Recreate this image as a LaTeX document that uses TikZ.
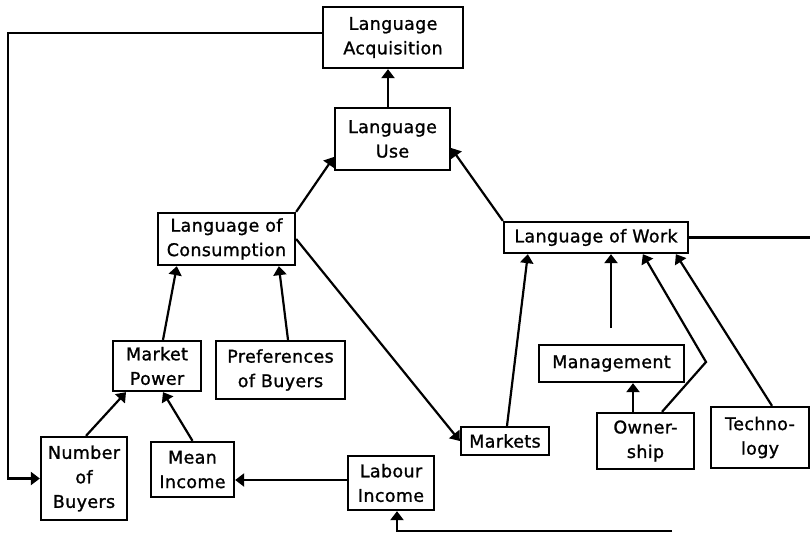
\documentclass[tikz,border=0pt]{standalone}
\usepackage{fontspec}
\setmainfont[LetterSpace=2,FakeBold=1.2]{DejaVu Sans}
\usetikzlibrary{calc,arrows.meta}
\begin{document}
\begin{tikzpicture}[x=1pt,y=-1pt,
  box/.style={draw,line width=2.3pt,inner sep=0pt,align=center,font=\fontsize{17.5}{24.5}\selectfont},
  con/.style={line width=2.2pt},
  arr/.style={con,-{Triangle[length=9pt,width=13pt]}}]
\useasboundingbox (0,0) rectangle (810,533);
\node[box,minimum width=140pt,minimum height=61pt] (acq) at (393,37.5) {Language\\Acquisition};
\node[box,minimum width=115pt,minimum height=62pt] (use) at (392.5,139) {Language\\Use};
\node[box,minimum width=137pt,minimum height=52pt] (cons) at (226.5,239) {Language of\\Consumption};
\node[box,minimum width=184pt,minimum height=31pt] (work) at (596,237.5) {Language of Work};
\node[box,minimum width=88pt,minimum height=50pt] (mp) at (157,366) {Market\\Power};
\node[box,minimum width=129pt,minimum height=58pt] (pref) at (280.5,370) {Preferences\\of Buyers};
\node[box,minimum width=145pt,minimum height=37pt] (mgmt) at (611.5,363.5) {Management};
\node[box,minimum width=88pt,minimum height=28pt] (markets) at (505,441) {Markets};
\node[box,minimum width=97pt,minimum height=56pt] (own) at (645.5,441) {Owner-\\ship};
\node[box,minimum width=98pt,minimum height=61pt] (tech) at (760,437.5) {Techno-\\logy};
\node[box,minimum width=86pt,minimum height=83pt] (nb) at (84,478.5) {Number\\of\\Buyers};
\node[box,minimum width=83pt,minimum height=55pt] (mean) at (192.5,469.5) {Mean\\Income};
\node[box,minimum width=86pt,minimum height=54pt] (lab) at (391,483) {Labour\\Income};
\coordinate (c1) at (8,33);
\coordinate (c2) at (810,237.5);
\coordinate (c3) at (672,531);
\coordinate (c4) at (611,328);
\coordinate (c5) at (706,362);
\coordinate (useA) at ($(use.north)+(-4.5,0)$);
\coordinate (labA) at ($(lab.west)+(0,-3)$);
\coordinate (ownA) at ($(own.north)+(-12.5,0)$);
% connectors
\draw[arr] (useA) -- (useA |- acq.south);
\draw[arr] ($(acq.west)+(0,-4.5)$) -- (c1) |- (nb.west);
\draw[arr] (cons.north east) -- ($(use.west)+(0,18)$);
\draw[arr] (work.north west) -- ($(use.east)+(0,9)$);
\draw[con] (work.east) -- (c2);
\draw[arr] (cons.east) -- (markets.west);
\draw[arr] ($(mp.north)+(6,0)$) -- ($(cons.south west)+(20,0)$);
\draw[arr] ($(pref.north)+(7.5,0)$) -- ($(cons.south west)+(122,0)$);
\draw[arr] ($(nb.north)+(2,0)$) -- ($(mp.south)+(-31,0)$);
\draw[arr] (mean.north) -- ($(mp.south)+(6,0)$);
\draw[arr] (labA) -- (labA -| mean.east);
\draw[arr] (c3) -| ($(lab.south)+(6,0)$);
\draw[arr] ($(markets.north)+(2,0)$) -- ($(work.south west)+(25,0)$);
\draw[arr] (c4) -- (c4 |- work.south);
\draw[arr] ($(own.north)+(16.5,0)$) -- (c5) -- ($(work.south west)+(140,0)$);
\draw[arr] ($(tech.north)+(12,0)$) -- ($(work.south west)+(173,0)$);
\draw[arr] (ownA) -- (ownA |- mgmt.south);
\end{tikzpicture}
\end{document}
